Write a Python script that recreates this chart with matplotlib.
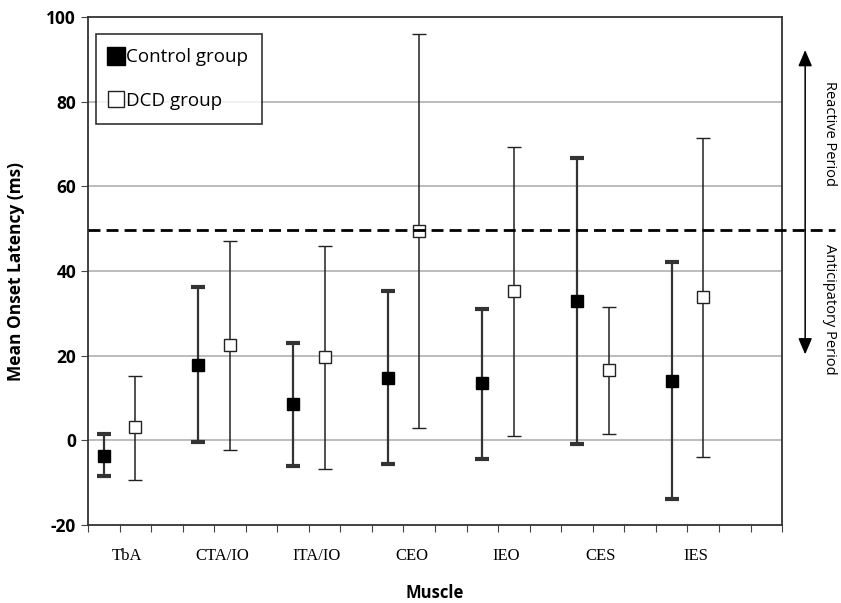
import numpy as np
import matplotlib
matplotlib.use("Agg")
import matplotlib.pyplot as plt
from matplotlib.lines import Line2D

# muscle categories and onset latency values (ms)
muscles = ["TbA", "CTA/IO", "ITA/IO", "CEO", "IEO", "CES", "IES"]

control_mean = [-3.7, 17.8, 8.5, 14.8, 13.5, 32.9, 14.1]
control_top = [1.5, 36.3, 23.1, 35.3, 31.0, 66.8, 42.2]
control_bottom = [-8.5, -0.5, -6.0, -5.5, -4.4, -0.8, -13.9]

dcd_mean = [3.1, 22.4, 19.6, 49.5, 35.3, 16.6, 33.9]
dcd_top = [15.3, 47.1, 46.0, 96.1, 69.4, 31.6, 71.4]
dcd_bottom = [-9.3, -2.3, -6.8, 2.9, 1.0, 1.5, -4.0]

threshold = 49.6

plt.rcParams['font.family'] = ['Open Sans', 'DejaVu Sans']
plt.rcParams['axes.unicode_minus'] = False

fig = plt.figure(figsize=(8.41, 6.03), dpi=100)
ax = fig.add_axes([0.1046, 0.1294, 0.8254, 0.8424])

xc = np.arange(len(muscles)) * 3 + 0.5
xd = xc + 1

cm = np.array(control_mean)
dm = np.array(dcd_mean)
c_err = [cm - np.array(control_bottom), np.array(control_top) - cm]
d_err = [dm - np.array(dcd_bottom), np.array(dcd_top) - dm]

ax.errorbar(xc, cm, yerr=c_err, fmt='s', color='black', ecolor='#333333',
            elinewidth=1.6, capsize=5, capthick=3, markersize=8, zorder=3)
ax.errorbar(xd, dm, yerr=d_err, fmt='s', color='black', ecolor='#222222',
            mfc='white', mec='#222222', mew=1.0, elinewidth=1.1,
            capsize=5, capthick=2.4, markersize=8, zorder=3)

ax.set_xlim(0, 22)
ax.set_ylim(-20, 100)
ax.set_xticks(np.arange(0, 23))
ax.set_xticklabels([])
ax.set_yticks(np.arange(-20, 101, 20))
ax.tick_params(axis='both', direction='out', length=5, color='#444444')
ax.tick_params(axis='y', labelsize=12.5)
for lab in ax.get_yticklabels():
    lab.set_fontweight('bold')
for y in range(0, 100, 20):
    ax.axhline(y, color='#aaaaaa', lw=1.1, zorder=1)
for s in ax.spines.values():
    s.set_color('#333333')
    s.set_linewidth(1.3)

for i, m in enumerate(muscles):
    ax.text(i * 3 + 1.25, -27.3, m, ha='center', va='center',
            fontsize=12, family='Liberation Serif')

fig.text(0.517, 0.017, 'Muscle', ha='center', va='center', fontsize=12,
         fontweight='bold')
fig.text(0.019, 0.55, 'Mean Onset Latency (ms)', ha='center', va='center',
         rotation=90, fontsize=12.5, fontweight='bold')

# threshold between anticipatory and reactive periods
ax.plot([0, 23.68], [threshold, threshold], ls=(0, (4.3, 2.2)), color='black',
        lw=2, clip_on=False, zorder=4)

for tip in (92.2, 20.3):
    ax.annotate('', xy=(22.73, tip), xytext=(22.73, threshold), xycoords='data',
                arrowprops=dict(arrowstyle='-|>,head_length=0.7,head_width=0.3',
                                color='black', lw=1.1, mutation_scale=14,
                                shrinkA=0, shrinkB=0),
                annotation_clip=False)
ax.text(23.5, 72.5, 'Reactive Period', rotation=-90, ha='center', va='center',
        fontsize=10.5)
ax.text(23.5, 31.0, 'Anticipatory Period', rotation=-90, ha='center',
        va='center', fontsize=10.5)

handles = [Line2D([], [], ls='none', marker='s', ms=13, mfc='black',
                  mec='black'),
           Line2D([], [], ls='none', marker='s', ms=12, mfc='white',
                  mec='#222222', mew=1.0)]
leg = ax.legend(handles, ['Control group', 'DCD group'], loc='upper left',
                bbox_to_anchor=(0.011, 0.966), frameon=True,
                fancybox=False, edgecolor='black', fontsize=13.5,
                handlelength=0.7, handletextpad=0.15, borderpad=0.75,
                labelspacing=1.35, borderaxespad=0)
leg.get_frame().set_linewidth(1.2)

fig.savefig('out.png', dpi=100)
